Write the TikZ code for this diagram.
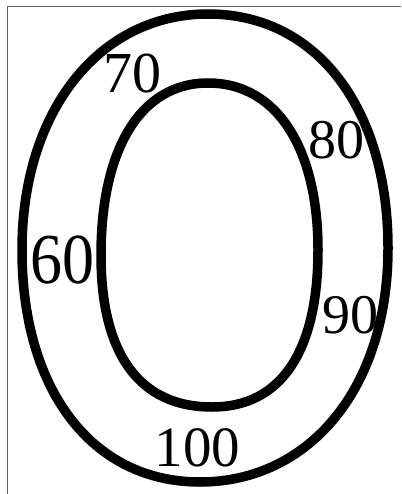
\documentclass[tikz,border=0pt]{standalone}
\usepackage{fontspec}
\setmainfont{Liberation Serif}
\begin{document}
\begin{tikzpicture}[x=1pt,y=-1pt,
  ring/.style={line width=9.5pt,draw=black},
  lbl/.style={inner sep=0pt,anchor=center},
  frameline/.style={draw=black!60,line width=1pt}]
\useasboundingbox (0,0) rectangle (401,494);
\coordinate (fa) at (7,494);
\coordinate (fb) at (7,7);
\coordinate (fc) at (401,7);
\draw[frameline] (fa) -- (fb) -- (fc);
% outer ring
\draw[ring] (22,250) .. controls (22,110) and (100,14) .. (208,14)
  .. controls (318,14) and (388,110) .. (388,248)
  .. controls (388,390) and (308,482) .. (200,482)
  .. controls (92,482) and (22,390) .. cycle;
% inner ring
\draw[ring] (101,255) .. controls (101,150) and (140,83) .. (208,83)
  .. controls (278,83) and (318,150) .. (318,250)
  .. controls (318,350) and (282,407) .. (212,407)
  .. controls (140,407) and (101,355) .. cycle;
\node[lbl,font=\fontsize{58}{58}\selectfont] (t70) at (132,73) {70};
\node[lbl,font=\fontsize{56}{56}\selectfont] (t80) at (336,140) {80};
\node[lbl,font=\fontsize{64}{64}\selectfont,yscale=1.12] (t60) at (62,260) {60};
\node[lbl,font=\fontsize{56}{56}\selectfont] (t90) at (350,315) {90};
\node[lbl,font=\fontsize{57}{57}\selectfont] (t100) at (197.5,448) {100};
\end{tikzpicture}
\end{document}
